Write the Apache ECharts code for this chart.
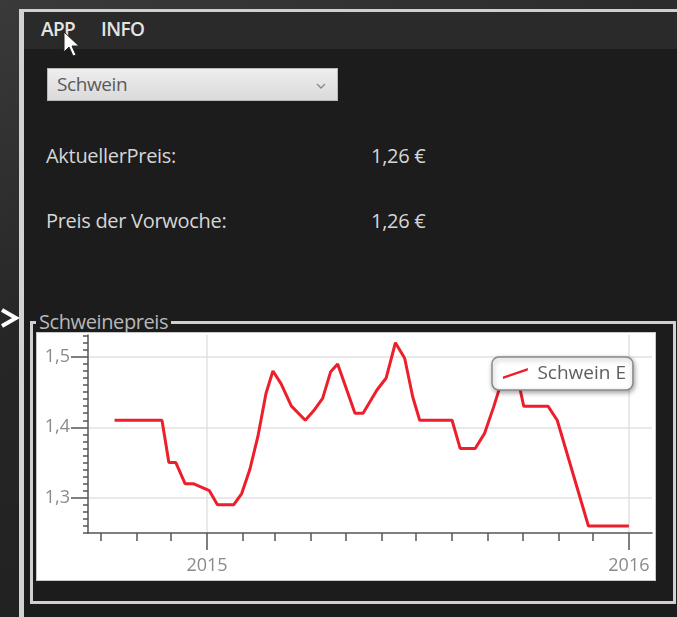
<!DOCTYPE html>
<html>
<head>
<meta charset="utf-8">
<script src="https://cdn.jsdelivr.net/npm/echarts@6/dist/echarts.min.js"></script>
<style>
  html, body { margin:0; padding:0; width:677px; height:617px; overflow:hidden; }
  body { position:relative; background:linear-gradient(160deg,#3a3a3a 0%,#262626 40%,#1e1e1e 100%); font-family:"Open Sans","Noto Sans",sans-serif; }
  .abs { position:absolute; line-height:1; white-space:nowrap; }
  #win { left:19px; top:9px; width:680px; height:640px; background:#1c1c1c; border-left:5px solid #d2d2d2; border-top:3px solid #cfcfcf; box-sizing:border-box; }
  #menubar { left:24px; top:12px; width:660px; height:37px; background:#2a2a2a; }
  .menu { color:#e4e4e4; font-size:19px; font-weight:600; top:20px; letter-spacing:-0.6px; }
  #dropdown { left:47px; top:68px; width:291px; height:33px; background:linear-gradient(#eeeeee,#dadada); border:1px solid #b8b8b8; box-sizing:border-box; }
  #dropdown span { position:absolute; left:9px; top:6px; font-size:19px; line-height:1; color:#5a5a5a; letter-spacing:-0.4px; }
  .lbl { color:#d6d6d6; font-size:20px; letter-spacing:-0.3px; }
  #group { left:30px; top:321px; width:646px; height:283px; border:3px solid #d0d0d0; box-sizing:border-box; }
  #gtitle { left:36px; top:312px; padding:0 3px; background:#1c1c1c; color:#b8b8b8; font-size:20px; letter-spacing:-0.4px; }
  #chart { left:36px; top:332px; width:620px; height:249px; background:#fff; border:1px solid #c8c8c8; box-sizing:border-box; }
</style>
</head>
<body>
<svg class="abs" style="left:0;top:300px" width="20" height="40"><polyline points="2,10 16,18 2,26" fill="none" stroke="#fff" stroke-width="4"/></svg>
<div id="win" class="abs"></div>
<div id="menubar" class="abs"></div>
<div class="abs menu" style="left:41px">APP</div>
<div class="abs menu" style="left:101px">INFO</div>
<svg class="abs" style="left:62px;top:30px" width="20" height="30"><polygon points="2,2 2,22 7,17 11,26 14,25 10,16 17,16" fill="#fff" stroke="#222" stroke-width="1"/></svg>
<div id="dropdown" class="abs"><span>Schwein</span>
  <svg class="abs" style="left:268px;top:13px" width="10" height="8"><polyline points="1,2 5,6 9,2" fill="none" stroke="#888" stroke-width="1.3"/></svg>
</div>
<div class="abs lbl" style="left:46px;top:146px">AktuellerPreis:</div>
<div class="abs lbl" style="left:371px;top:146px">1,26 €</div>
<div class="abs lbl" style="left:46px;top:211px">Preis der Vorwoche:</div>
<div class="abs lbl" style="left:371px;top:211px">1,26 €</div>
<div id="group" class="abs"></div>
<div id="gtitle" class="abs">Schweinepreis</div>
<div id="chart" class="abs"></div>
<script>
// ---- data ----
const seriesName = 'Schwein E';
const dates = ['2014-10-13','2014-11-23','2014-11-29','2014-12-05','2014-12-13','2014-12-20','2014-12-27',
  '2015-01-03','2015-01-10','2015-01-24','2015-01-31','2015-02-07','2015-02-14','2015-02-21','2015-02-27',
  '2015-03-06','2015-03-15','2015-03-27','2015-04-04','2015-04-11','2015-04-18','2015-04-24','2015-05-09',
  '2015-05-16','2015-05-28','2015-06-05','2015-06-13','2015-06-21','2015-06-28','2015-07-04','2015-08-01',
  '2015-08-08','2015-08-21','2015-08-29','2015-09-06','2015-09-10','2015-09-17','2015-09-23','2015-09-29',
  '2015-10-02','2015-10-23','2015-10-31','2015-11-27','2016-01-01'];
const prices = [1.41,1.41,1.35,1.35,1.32,1.32,1.315,
  1.31,1.29,1.29,1.306,1.34,1.387,1.448,1.48,
  1.462,1.43,1.41,1.425,1.441,1.479,1.49,1.42,
  1.42,1.453,1.47,1.52,1.498,1.443,1.41,1.41,
  1.37,1.37,1.391,1.429,1.45,1.48,1.49,1.453,
  1.43,1.43,1.41,1.26,1.26];
const yearTicks = ['2015-01-01','2016-01-01'];
const monthTicks = ['2014-10-01','2014-11-01','2014-12-01','2015-01-01','2015-02-01','2015-03-01','2015-04-01',
  '2015-05-01','2015-06-01','2015-07-01','2015-08-01','2015-09-01','2015-10-01','2015-11-01','2015-12-01','2016-01-01'];
const yMajorTicks = [1.3,1.4,1.5];
const yMinorTicks = [1.25,1.26,1.27,1.28,1.29,1.30,1.31,1.32,1.33,1.34,1.35,1.36,1.37,1.38,1.39,1.40,
  1.41,1.42,1.43,1.44,1.45,1.46,1.47,1.48,1.49,1.50,1.51,1.52,1.53];
const xRange = ['2014-09-20','2016-01-21'];
const yRange = [1.25,1.531];

function ts(s){ const p=s.split('-'); return Date.UTC(+p[0], +p[1]-1, +p[2]); }

const chart = echarts.init(document.getElementById('chart'), null, {renderer:'canvas'});
const axisCol = '#555';
const txtCol = '#8a8a8a';
chart.setOption({
  animation:false,
  grid:{left:51, right:3, top:2, bottom:47},
  legend:{
    left:455, top:24, padding:[7,7,7,11],
    backgroundColor:'#fff', borderColor:'#8a8a8a', borderWidth:1.5, borderRadius:7,
    shadowColor:'rgba(0,0,0,0.35)', shadowBlur:5, shadowOffsetX:1, shadowOffsetY:2,
    icon:'path://M0,9 L26,0 L26,2.5 L0,11.5 Z', itemWidth:26, itemHeight:11, itemGap:10,
    textStyle:{color:'#5e5e5e', fontSize:19, fontFamily:'Open Sans', padding:[0,0,0,4]},
    data:[seriesName]
  },
  xAxis:[{
    type:'value', min:ts(xRange[0]), max:ts(xRange[1]),
    axisLine:{lineStyle:{color:axisCol, width:1.5}},
    axisTick:{customValues:yearTicks.map(ts), length:17, lineStyle:{color:axisCol, width:1.5}},
    axisLabel:{customValues:yearTicks.map(ts), color:txtCol, fontSize:18, fontFamily:'Open Sans', margin:24,
      formatter:function(v){ return String(new Date(v).getUTCFullYear()); }},
    splitLine:{show:true, lineStyle:{color:'#e2e2e2', width:1.5}}
  },{
    type:'value', min:ts(xRange[0]), max:ts(xRange[1]), position:'bottom',
    axisLine:{show:false},
    axisTick:{customValues:monthTicks.map(ts), length:8, lineStyle:{color:axisCol, width:1.5}},
    axisLabel:{show:false}, splitLine:{show:false}
  }],
  yAxis:[{
    type:'value', min:yRange[0], max:yRange[1], position:'left',
    axisLine:{show:true, lineStyle:{color:axisCol, width:1.5}},
    axisTick:{customValues:yMajorTicks, length:17, lineStyle:{color:axisCol, width:1.5}},
    axisLabel:{customValues:yMajorTicks, color:txtCol, fontSize:18, fontFamily:'Open Sans', margin:18,
      formatter:function(v){ return v.toFixed(1).replace('.', ','); }},
    splitLine:{show:true, lineStyle:{color:'#e2e2e2', width:1.5}}
  },{
    type:'value', min:yRange[0], max:yRange[1], position:'left',
    axisLine:{show:false},
    axisTick:{customValues:yMinorTicks, length:5, lineStyle:{color:axisCol, width:1.5}},
    axisLabel:{show:false}, splitLine:{show:false}
  }],
  series:[{
    name:seriesName, type:'line', xAxisIndex:0, yAxisIndex:0,
    showSymbol:false, symbol:'none',
    lineStyle:{color:'#ec1f2b', width:3}, itemStyle:{color:'#ec1f2b'},
    data:dates.map((d,i)=>[ts(d), prices[i]])
  }]
});
</script>
</body>
</html>
